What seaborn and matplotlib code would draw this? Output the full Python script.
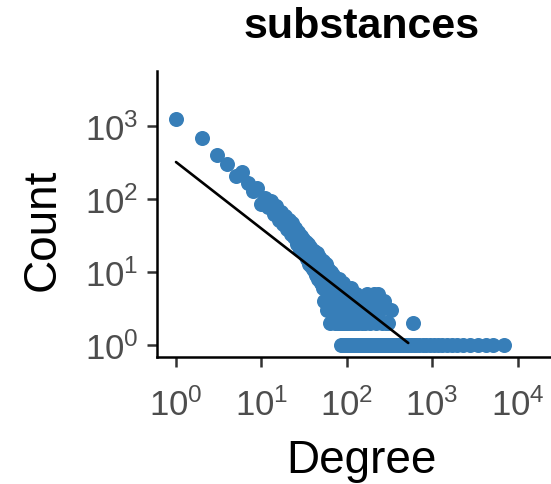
import matplotlib
matplotlib.use("Agg")
import matplotlib.pyplot as plt
import seaborn as sns
import pandas as pd
from matplotlib.ticker import LogLocator, NullLocator

# grado bajo: cada grado con su cuenta
deg_low = list(range(1, 51))
cnt_low = [1230, 680, 400, 300, 205, 232, 165, 128, 140, 85,
           104, 78, 92, 62, 80, 52, 66, 45, 58, 38,
           52, 33, 47, 30, 40, 24, 35, 20, 31, 22,
           28, 17, 26, 15, 24, 13, 22, 12, 20, 11,
           19, 10, 17, 9, 18, 8, 16, 10, 15, 7]

# cola: grados dispersos con cuentas pequeñas
deg_tail = [51, 52, 53, 54, 55, 56, 57, 58, 59, 60, 61, 62, 63, 64, 65, 66, 67, 68, 69, 70,
            71, 72, 73, 74, 75, 76, 77, 78, 79, 80, 81, 82, 83, 84, 85, 86, 87, 88, 89, 90,
            91, 92, 94, 95, 96, 98, 99, 100, 102, 104, 106, 108, 110, 112, 115, 117, 120,
            123, 126, 130, 133, 137, 141, 145, 150, 155, 160, 165, 171, 178, 185, 192, 200,
            210, 220, 232, 245, 260, 275, 290, 305, 330, 590]
cnt_tail = [12, 6, 14, 4, 10, 7, 13, 3, 9, 5, 11, 4, 8, 2, 10, 3, 7, 5, 9, 3,
            6, 2, 8, 4, 3, 7, 5, 2, 6, 3, 8, 2, 5, 3, 6, 4, 2, 5, 3, 7,
            2, 4, 3, 5, 2, 4, 6, 3, 2, 5, 3, 4, 2, 6, 3, 2, 4,
            3, 2, 5, 3, 2, 4, 3, 2, 4, 3, 2, 5, 3, 2, 4, 3,
            5, 2, 5, 3, 2, 4, 2, 2, 3, 2]

# grados que aparecen una sola vez
deg_single = [86, 90, 93, 97, 101, 105, 109, 114, 118, 124, 128, 135, 139, 147, 152,
              158, 168, 174, 182, 190, 198, 206, 215, 226, 238, 250, 263, 278, 295, 312,
              333, 352, 375, 398, 425, 455, 490, 520, 560, 605, 655, 710, 780, 850, 940,
              1040, 1160, 1300, 1480, 1700, 1950, 2300, 2800, 3400, 4300, 5200, 6900]

# recta de ajuste (extremos)
fit_x = [1, 525]
fit_y = [318, 1.065]

df = pd.DataFrame({
    "degree": deg_low + deg_tail + deg_single,
    "count": cnt_low + cnt_tail + [1] * len(deg_single),
})

sns.set_theme(style="ticks")
plt.rcParams['font.family'] = ['Liberation Sans', 'DejaVu Sans']
plt.rcParams['mathtext.fontset'] = 'custom'
plt.rcParams['mathtext.rm'] = 'Liberation Sans'

fig = plt.figure(figsize=(5.51, 4.85), dpi=100)
ax = fig.add_axes([0.2844, 0.2619, 0.7447, 0.5903])

sns.scatterplot(data=df, x="degree", y="count", color="#377EB8", s=117,
                linewidth=0, ax=ax, zorder=2)
sns.lineplot(x=fit_x, y=fit_y, color="black", lw=1.9, ax=ax, zorder=3)

ax.set_xscale("log")
ax.set_yscale("log")
ax.set_xlim(10 ** -0.226, 10 ** 4.58)
ax.set_ylim(10 ** -0.164, 10 ** 3.752)
ax.xaxis.set_major_locator(LogLocator(base=10, numticks=12))
ax.yaxis.set_major_locator(LogLocator(base=10, numticks=12))
ax.xaxis.set_minor_locator(NullLocator())
ax.yaxis.set_minor_locator(NullLocator())

sns.despine(ax=ax)
for s in ["left", "bottom"]:
    ax.spines[s].set_linewidth(1.8)
    ax.spines[s].set_color("black")
ax.tick_params(axis="both", length=7, width=1.8, color="#333333",
               labelcolor="#4D4D4D", labelsize=25)
ax.tick_params(axis="x", pad=15)
ax.tick_params(axis="y", pad=6)

ax.set_xlabel("Degree", fontsize=33, color="black")
ax.set_ylabel("Count", fontsize=33, color="black")
ax.xaxis.set_label_coords(0.5, -0.284)
ax.yaxis.set_label_coords(-0.2235, 0.447)

fig.text(362 / 551, 1 - 38 / 485, "substances", ha="center", va="baseline",
         fontsize=31, fontweight="bold", color="black")

fig.savefig("out.png", dpi=100)
